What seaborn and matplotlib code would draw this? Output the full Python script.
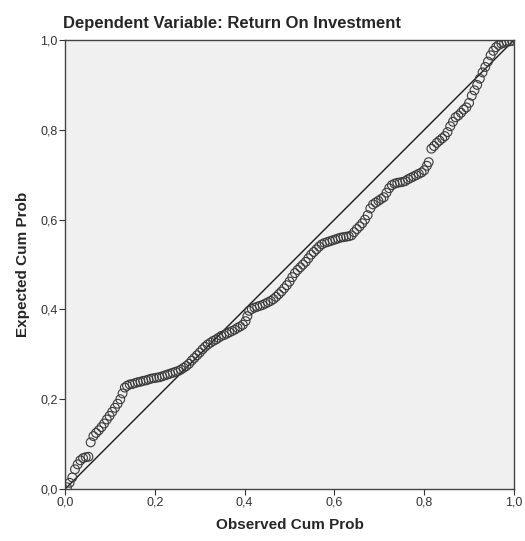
import matplotlib
matplotlib.use("Agg")
import matplotlib.pyplot as plt
import seaborn as sns
import pandas as pd

# P-P plot values
observed = [0.004, 0.010, 0.016, 0.022, 0.028, 0.034, 0.040, 0.046, 0.052, 0.057,
            0.063, 0.069, 0.075, 0.081, 0.087, 0.093, 0.099, 0.105, 0.111, 0.117,
            0.123, 0.128, 0.133, 0.138, 0.144, 0.150, 0.156, 0.162, 0.168, 0.174,
            0.180, 0.186, 0.192, 0.198, 0.204, 0.210, 0.216, 0.222, 0.228, 0.234,
            0.240, 0.246, 0.252, 0.258, 0.264, 0.270, 0.276, 0.282, 0.288, 0.294,
            0.300, 0.306, 0.312, 0.318, 0.324, 0.330, 0.336, 0.342, 0.348, 0.354,
            0.360, 0.366, 0.372, 0.378, 0.384, 0.390, 0.396, 0.402, 0.406, 0.410,
            0.416, 0.422, 0.428, 0.434, 0.440, 0.446, 0.452, 0.458, 0.464, 0.470,
            0.476, 0.482, 0.488, 0.494, 0.500, 0.506, 0.512, 0.518, 0.524, 0.530,
            0.536, 0.542, 0.548, 0.554, 0.560, 0.566, 0.572, 0.578, 0.584, 0.590,
            0.596, 0.602, 0.608, 0.614, 0.620, 0.626, 0.632, 0.638, 0.644, 0.650,
            0.656, 0.662, 0.668, 0.674, 0.680, 0.686, 0.692, 0.698, 0.704, 0.710,
            0.716, 0.722, 0.728, 0.734, 0.740, 0.746, 0.752, 0.758, 0.764, 0.770,
            0.776, 0.782, 0.788, 0.794, 0.800, 0.806, 0.810, 0.816, 0.822, 0.828,
            0.834, 0.840, 0.846, 0.852, 0.858, 0.864, 0.870, 0.876, 0.882, 0.888,
            0.894, 0.900, 0.906, 0.912, 0.918, 0.924, 0.930, 0.936, 0.942, 0.948,
            0.954, 0.960, 0.966, 0.972, 0.978, 0.984, 0.990, 0.996]
expected = [0.004, 0.014, 0.026, 0.044, 0.055, 0.064, 0.069, 0.071, 0.072, 0.104,
            0.118, 0.125, 0.131, 0.138, 0.146, 0.155, 0.163, 0.172, 0.181, 0.190,
            0.200, 0.213, 0.226, 0.230, 0.233, 0.234, 0.236, 0.238, 0.239, 0.241,
            0.242, 0.244, 0.246, 0.247, 0.248, 0.249, 0.251, 0.253, 0.255, 0.257,
            0.259, 0.261, 0.263, 0.266, 0.270, 0.274, 0.279, 0.286, 0.292, 0.298,
            0.304, 0.311, 0.317, 0.322, 0.326, 0.330, 0.333, 0.337, 0.341, 0.343,
            0.346, 0.349, 0.352, 0.355, 0.359, 0.362, 0.366, 0.374, 0.385, 0.397,
            0.401, 0.404, 0.406, 0.408, 0.410, 0.413, 0.416, 0.419, 0.423, 0.428,
            0.434, 0.440, 0.447, 0.454, 0.462, 0.472, 0.481, 0.488, 0.494, 0.500,
            0.506, 0.514, 0.522, 0.528, 0.534, 0.540, 0.545, 0.548, 0.550, 0.552,
            0.554, 0.556, 0.558, 0.560, 0.561, 0.562, 0.563, 0.565, 0.572, 0.579,
            0.585, 0.592, 0.600, 0.610, 0.625, 0.634, 0.638, 0.642, 0.646, 0.650,
            0.660, 0.670, 0.677, 0.680, 0.682, 0.683, 0.684, 0.686, 0.690, 0.693,
            0.696, 0.699, 0.702, 0.705, 0.710, 0.720, 0.728, 0.758, 0.764, 0.771,
            0.776, 0.781, 0.786, 0.795, 0.808, 0.818, 0.828, 0.832, 0.838, 0.845,
            0.850, 0.860, 0.876, 0.888, 0.900, 0.914, 0.928, 0.940, 0.952, 0.966,
            0.976, 0.984, 0.989, 0.992, 0.994, 0.996, 0.997, 0.998]

ticks = [0.0, 0.2, 0.4, 0.6, 0.8, 1.0]
tick_labels = ["0,0", "0,2", "0,4", "0,6", "0,8", "1,0"]

df = pd.DataFrame({"Observed Cum Prob": observed, "Expected Cum Prob": expected})

sns.set_style("white")
plt.rcParams["font.family"] = ["Liberation Sans", "DejaVu Sans"]

fig = plt.figure(figsize=(5.25, 5.41), dpi=100)
ax = fig.add_axes([0.124, 0.096, 0.855, 0.830])
ax.set_facecolor("#f0f0f0")

sns.scatterplot(data=df, x="Observed Cum Prob", y="Expected Cum Prob", ax=ax,
                marker="o", s=40, facecolors="none", edgecolor="#3a3a3a",
                linewidth=0.8, zorder=3)

# reference diagonal
ax.axline((0, 0), slope=1, color="#1a1a1a", linewidth=1.0, zorder=2)

ax.set_xlim(0, 1)
ax.set_ylim(0, 1)
ax.set_xticks(ticks)
ax.set_xticklabels(tick_labels)
ax.set_yticks(ticks)
ax.set_yticklabels(tick_labels)
ax.tick_params(axis="both", direction="out", length=4, width=0.8,
               colors="#333333", labelsize=9, pad=1.5, bottom=True, left=True)

for s in ax.spines.values():
    s.set_color("#444444")
    s.set_linewidth(1.0)

ax.set_xlabel("Observed Cum Prob", fontsize=11, fontweight="bold", labelpad=7)
ax.set_ylabel("Expected Cum Prob", fontsize=11, fontweight="bold", labelpad=7)
ax.set_title("Dependent Variable: Return On Investment", loc="left",
             fontsize=12, fontweight="bold", pad=9, x=-0.005)

plt.savefig("out.png", dpi=100)
